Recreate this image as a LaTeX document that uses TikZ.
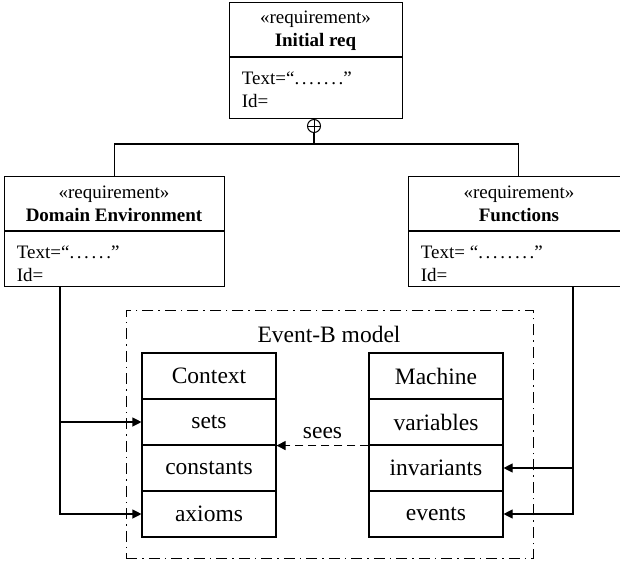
\documentclass[tikz,border=0pt]{standalone}
\usepackage{fontspec}
\setmainfont{Liberation Serif}
\usetikzlibrary{arrows.meta}
% a widely spaced dot for the placeholder texts
\newcommand\sdot{.\kern2.6pt}

\begin{document}
\begin{tikzpicture}[x=1pt,y=-1pt,line width=1.1pt,
  box/.style={draw,inner sep=0pt,anchor=north west},
  reqfont/.style={font=\fontsize{19}{23}\selectfont},
  cellfont/.style={font=\fontsize{23.5}{27}\selectfont},
  cell/.style={draw,inner sep=0pt,minimum width=134pt,minimum height=46pt,cellfont},
  frame/.style={draw,inner sep=0pt,anchor=north west,line width=0.8pt,
    dash pattern=on 11pt off 5pt on 1.5pt off 5pt},
  seesline/.style={dash pattern=on 8pt off 5pt},
  tip/.style={-{Triangle[length=9pt,width=9pt]}}]

\useasboundingbox (0,0) rectangle (620,565);
\clip (0,0) rectangle (620,565);

% requirement blocks
\node[box,minimum width=173pt,minimum height=116pt] (init) at (229,2) {};
\draw (init.west |- 0,57) -- (init.east |- 0,57);
\node[reqfont,align=center] (initt) at (315.5,31) {«requirement»\\\textbf{Initial req}};
\node[reqfont,align=left,anchor=west] (inita) at (238,90)
  {Text=“\sdot\sdot\sdot\sdot\sdot\sdot.”\\Id=};

\node[box,minimum width=220pt,minimum height=110pt] (dom) at (4,176) {};
\draw (dom.west |- 0,231) -- (dom.east |- 0,231);
\node[reqfont,align=center] (domt) at (114,204) {«requirement»\\\textbf{Domain Environment}};
\node[reqfont,align=left,anchor=west] (doma) at (13,263.5)
  {Text=“\sdot\sdot\sdot\sdot\sdot.”\\Id=};

\node[box,minimum width=220pt,minimum height=110pt] (func) at (408,176) {};
\draw (func.west |- 0,231) -- (func.east |- 0,231);
\node[reqfont,align=center] (funct) at (519,204) {«requirement»\\\textbf{Functions}};
\node[reqfont,align=left,anchor=west] (funca) at (417,263.5)
  {Text= “\sdot\sdot\sdot\sdot\sdot\sdot\sdot.”\\Id=};

% containment tree
\node[draw,circle,minimum size=13pt,inner sep=0pt,line width=1pt] (xor) at (314,126) {};
\draw[line width=1pt] (xor.north) -- (xor.south) (xor.west) -- (xor.east);
\coordinate (jn) at (314,144);
\draw (xor.south) -- (jn);
\draw (dom.north) |- (jn) -| (func.north);

% Event-B model
\node[frame,minimum width=407pt,minimum height=248pt] (ebm) at (126,310) {};
\node[cellfont] (ebmt) at (329,334) {Event-B model};

\node[cell] (ctx)  at (209,376) {Context};
\node[cell] (sets) at (209,422) {sets};
\node[cell] (cons) at (209,468) {constants};
\node[cell] (axio) at (209,514) {axioms};

\node[cell] (mach) at (436,376) {Machine};
\node[cell] (vars) at (436,422) {variables};
\node[cell] (invs) at (436,468) {invariants};
\node[cell] (evts) at (436,514) {events};

\draw[seesline,tip] (vars.south west) -- (sets.south east)
  node[midway,above=3pt,cellfont] {sees};

% traceability links
\coordinate (dtap) at (60,286);
\coordinate (ftap) at (573,286);
\draw[tip] (dtap) |- (sets.west);
\draw[tip] (dtap) |- (axio.west);
\draw[tip] (ftap) |- (invs.east);
\draw[tip] (ftap) |- (evts.east);
\end{tikzpicture}
\end{document}
